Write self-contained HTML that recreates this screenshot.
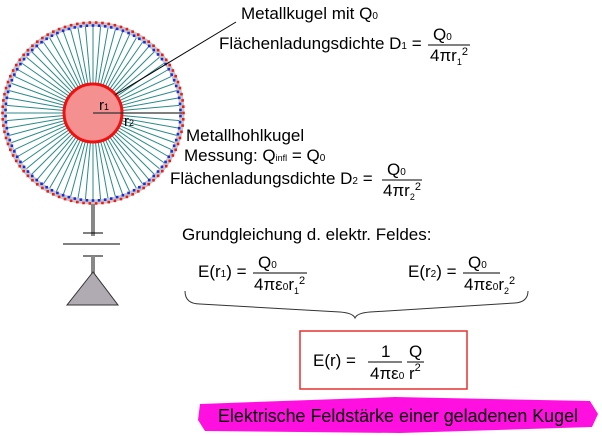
<!DOCTYPE html>
<html><head><meta charset="utf-8"><style>
body{margin:0;width:602px;height:436px;background:#fff;overflow:hidden}
svg{display:block}
text{font-family:"Liberation Sans",sans-serif;fill:#000}
</style></head><body>
<svg id="s" width="602" height="436" viewBox="0 0 602 436" xmlns="http://www.w3.org/2000/svg">
<g id="spokes" stroke="#2a8a8a" stroke-width="1"></g>
<circle cx="93" cy="113" r="89" fill="none" stroke="#c8c8c8" stroke-width="5"/>
<g id="dots"></g>
<line x1="93" y1="204" x2="93" y2="236" stroke="#888" stroke-width="4"/>
<line x1="83" y1="233" x2="103" y2="233" stroke="#000" stroke-width="1"/>
<line x1="63" y1="244" x2="120" y2="244" stroke="#000" stroke-width="1"/>
<line x1="83" y1="256" x2="103" y2="256" stroke="#000" stroke-width="1"/>
<line x1="93" y1="256" x2="93" y2="274" stroke="#888" stroke-width="4"/>
<polygon points="93,272 67,305 118,305" fill="#b0aab2" stroke="#333" stroke-width="1"/>
<circle cx="93" cy="113" r="29" fill="#f59090" stroke="#f01010" stroke-width="3"/>
<line x1="93" y1="113" x2="182" y2="113" stroke="#333" stroke-width="1.2"/>
<text x="99" y="110" font-size="15">r<tspan font-size="9">1</tspan></text>
<text x="124" y="126" font-size="15">r<tspan font-size="9">2</tspan></text>
<line x1="115" y1="95" x2="236" y2="22" stroke="#000" stroke-width="1"/>

<text x="241" y="19" font-size="17">Metallkugel mit Q<tspan font-size="10">0</tspan></text>
<text x="219" y="49" font-size="17">Flächenladungsdichte D<tspan font-size="10">1</tspan> =</text>
<text x="433" y="40" font-size="17">Q<tspan font-size="10">0</tspan></text>
<line x1="428" y1="45" x2="470" y2="45" stroke="#000"/>
<text x="430" y="61" font-size="17">4πr<tspan font-size="9" dy="4">1</tspan><tspan font-size="11" dy="-10">2</tspan></text>

<text x="186" y="141" font-size="17">Metallhohlkugel</text>
<text x="184" y="161" font-size="17">Messung: Q<tspan font-size="9">infl</tspan> = Q<tspan font-size="10">0</tspan></text>
<text x="170" y="184" font-size="17">Flächenladungsdichte D<tspan font-size="10">2</tspan> =</text>
<text x="387" y="175" font-size="17">Q<tspan font-size="10">0</tspan></text>
<line x1="382" y1="180" x2="422" y2="180" stroke="#000"/>
<text x="383" y="196" font-size="17">4πr<tspan font-size="9" dy="4">2</tspan><tspan font-size="11" dy="-10">2</tspan></text>

<text x="182" y="240" font-size="17">Grundgleichung d. elektr. Feldes:</text>
<text x="198" y="277" font-size="17">E(r<tspan font-size="10">1</tspan>) =</text>
<text x="258" y="268" font-size="17">Q<tspan font-size="10">0</tspan></text>
<line x1="253" y1="273" x2="307" y2="273" stroke="#000"/>
<text x="254" y="290" font-size="17">4πε<tspan font-size="10">0</tspan>r<tspan font-size="9" dy="4">1</tspan><tspan font-size="11" dy="-10">2</tspan></text>
<text x="408" y="277" font-size="17">E(r<tspan font-size="10">2</tspan>) =</text>
<text x="468" y="268" font-size="17">Q<tspan font-size="10">0</tspan></text>
<line x1="463" y1="273" x2="500" y2="273" stroke="#000"/>
<text x="464" y="290" font-size="17">4πε<tspan font-size="10">0</tspan>r<tspan font-size="9" dy="4">2</tspan><tspan font-size="11" dy="-10">2</tspan></text>
<path d="M185,291 Q185,304 200,304 L340,312 Q353,313 355,318 Q357,313 370,312 L515,303 Q528,302 528,291" fill="none" stroke="#333" stroke-width="1"/>

<rect x="300" y="331" width="167" height="58" fill="none" stroke="#e53030" stroke-width="1.5"/>
<text x="313" y="366" font-size="17">E(r) =</text>
<text x="381" y="357" font-size="17">1</text>
<line x1="368" y1="362" x2="402" y2="362" stroke="#000"/>
<text x="370" y="379" font-size="17">4πε<tspan font-size="10">0</tspan></text>
<text x="409" y="357" font-size="17">Q</text>
<line x1="407" y1="362" x2="424" y2="362" stroke="#000"/>
<text x="409" y="379" font-size="17">r<tspan font-size="11" dy="-8">2</tspan></text>

<path d="M200,404 L395,397 L590,401 L598,414 L592,427 L400,433 L205,431 L198,420 Z" fill="#ff10e0"/>
<text x="218" y="422" font-size="18" textLength="360" lengthAdjust="spacingAndGlyphs">Elektrische Feldstärke einer geladenen Kugel</text>
</svg>
<script>
var ns="http://www.w3.org/2000/svg",sp=document.getElementById("spokes"),d=document.getElementById("dots");
for(var i=0;i<72;i++){var a=i*Math.PI*2/72,c=Math.cos(a),s=Math.sin(a);
var l=document.createElementNS(ns,"line");l.setAttribute("x1",93+30*c);l.setAttribute("y1",113+30*s);l.setAttribute("x2",93+87*c);l.setAttribute("y2",113+87*s);sp.appendChild(l);}
for(var i=0;i<180;i++){var a=i*Math.PI*2/180;
var r=document.createElementNS(ns,"rect");var R=(i%2)?87.5:90.5;
r.setAttribute("x",93+R*Math.cos(a)-1.3);r.setAttribute("y",113+R*Math.sin(a)-1.3);r.setAttribute("width",2.6);r.setAttribute("height",2.6);
r.setAttribute("fill",(i%2)?"#1a2ae0":"#f01818");d.appendChild(r);}
</script>
</body></html>
